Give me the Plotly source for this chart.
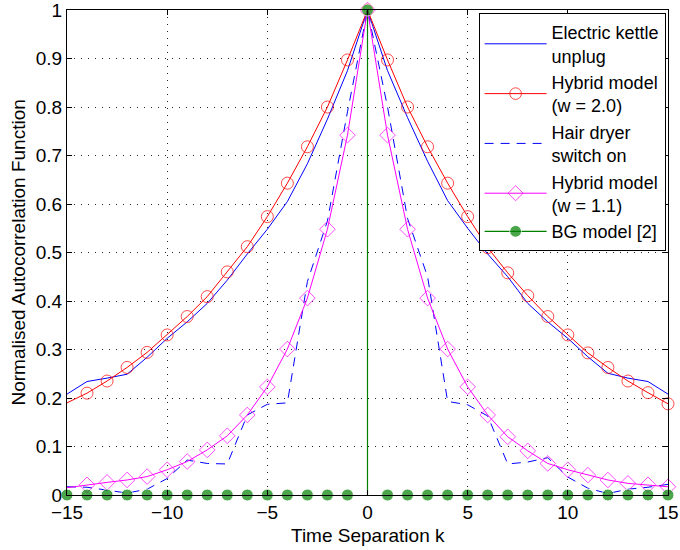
import plotly.graph_objects as go

k = list(range(-15, 16))

kettle = [0.208, 0.234, 0.241, 0.249, 0.284, 0.323, 0.357, 0.395, 0.443, 0.497, 0.548, 0.605, 0.683, 0.775, 0.875,
          1.0,
          0.875, 0.778, 0.688, 0.607, 0.55, 0.497, 0.45, 0.395, 0.357, 0.323, 0.285, 0.251, 0.241, 0.234, 0.208]

hybrid_w20 = [0.19, 0.21, 0.235, 0.263, 0.294, 0.33, 0.368, 0.409, 0.46, 0.512, 0.574, 0.643, 0.718, 0.80, 0.897,
              1.0,
              0.897, 0.80, 0.718, 0.643, 0.574, 0.51, 0.458, 0.411, 0.368, 0.330, 0.293, 0.263, 0.235, 0.211, 0.188]

hair_dryer = [0.017, 0.016, 0.010, 0.004, 0.012, 0.034, 0.072, 0.065, 0.064, 0.165, 0.187, 0.19, 0.44, 0.565, 0.79,
              1.0,
              0.80, 0.57, 0.45, 0.193, 0.186, 0.163, 0.064, 0.068, 0.077, 0.037, 0.014, 0.003, 0.012, 0.016, 0.022]

hybrid_w11 = [0.015, 0.021, 0.026, 0.031, 0.038, 0.052, 0.069, 0.093, 0.122, 0.165, 0.223, 0.301, 0.406, 0.548, 0.742,
              1.0,
              0.742, 0.548, 0.406, 0.301, 0.223, 0.165, 0.12, 0.091, 0.065, 0.052, 0.041, 0.031, 0.024, 0.021, 0.017]

bg_model = [0.0] * 15 + [1.0] + [0.0] * 15

names = ["Electric kettle<br>unplug", "Hybrid model<br>(w = 2.0)", "Hair dryer<br>switch on",
         "Hybrid model<br>(w = 1.1)", "BG model [2]"]
x_title = "Time Separation k"
y_title = "Normalised Autocorrelation Function"

FONT = "Liberation Sans, Arial, Helvetica, sans-serif"
MS = 12

fig = go.Figure()

fig.add_trace(go.Scatter(x=k, y=kettle, mode="lines", name=names[0],
                         line=dict(color="#0000ff", width=1), cliponaxis=False))

# first point (k=-15) carries no marker in the reference
sizes = [0] + [MS] * (len(k) - 1)
fig.add_trace(go.Scatter(x=k, y=hybrid_w20, mode="lines+markers", name=names[1],
                         line=dict(color="#ff0000", width=1),
                         marker=dict(symbol="circle-open", size=sizes, color="#ff0000",
                                     line=dict(width=1, color="#ff0000")),
                         cliponaxis=False))

fig.add_trace(go.Scatter(x=k, y=hair_dryer, mode="lines", name=names[2],
                         line=dict(color="#0000ff", width=1, dash="9px,7px"), cliponaxis=False))

fig.add_trace(go.Scatter(x=k, y=hybrid_w11, mode="lines+markers", name=names[3],
                         line=dict(color="#ff00ff", width=1),
                         marker=dict(symbol="diamond-open", size=sizes, color="#ff00ff",
                                     line=dict(width=1, color="#ff00ff")),
                         cliponaxis=False))

# BG model drawn as a stem: dots at every k, vertical line only where the value is non-zero
bx, by, bs = [], [], []
for kk, vv in zip(k, bg_model):
    if vv == 0:
        bx += [kk, None]
        by += [vv, None]
        bs += [MS, MS]
    else:
        bx += [kk, kk, None]
        by += [0, vv, None]
        bs += [0, MS, MS]
fig.add_trace(go.Scatter(x=bx, y=by, mode="lines+markers", name=names[4],
                         line=dict(color="#008000", width=1.2), connectgaps=False,
                         marker=dict(symbol="circle", size=bs, color="#008000"),
                         cliponaxis=False))

axis_common = dict(
    showline=True, linecolor="black", linewidth=1, mirror="ticks",
    ticks="inside", ticklen=5, tickcolor="black",
    showgrid=True, gridcolor="#222222", gridwidth=1, griddash="1px,6px",
    tickfont=dict(size=19, color="black", family=FONT),
    automargin=False, ticklabeloverflow="allow",
)

fig.update_xaxes(range=[-15, 15], dtick=5, tick0=0, zeroline=False, **axis_common)
fig.update_yaxes(range=[0, 1], dtick=0.1, tick0=0, zeroline=True, zerolinecolor="black", zerolinewidth=2,
                 **axis_common)

fig.add_annotation(text=x_title, xref="paper", yref="paper", x=0.5, y=0, yshift=-40,
                   xanchor="center", yanchor="middle", showarrow=False,
                   font=dict(size=19, color="black", family=FONT))
fig.add_annotation(text=y_title, xref="paper", yref="paper", x=0, y=0.5, xshift=-49,
                   xanchor="center", yanchor="middle", textangle=-90, showarrow=False,
                   font=dict(size=19, color="black", family=FONT))

fig.update_layout(
    width=680, height=550,
    margin=dict(l=67, r=12, t=10, b=55),
    paper_bgcolor="white", plot_bgcolor="white",
    font=dict(family=FONT, color="black"),
    showlegend=True,
    legend=dict(x=0.996, y=0.994, xanchor="right", yanchor="top",
                bgcolor="white", bordercolor="black", borderwidth=1,
                font=dict(size=18, color="black", family=FONT),
                itemwidth=62, tracegroupgap=0),
)

# remove the default 8px page margin so the figure sits at the window's top-left corner
fig.write_html("out.html", config={"displayModeBar": False},
               post_script="document.body.style.margin='0px';")
